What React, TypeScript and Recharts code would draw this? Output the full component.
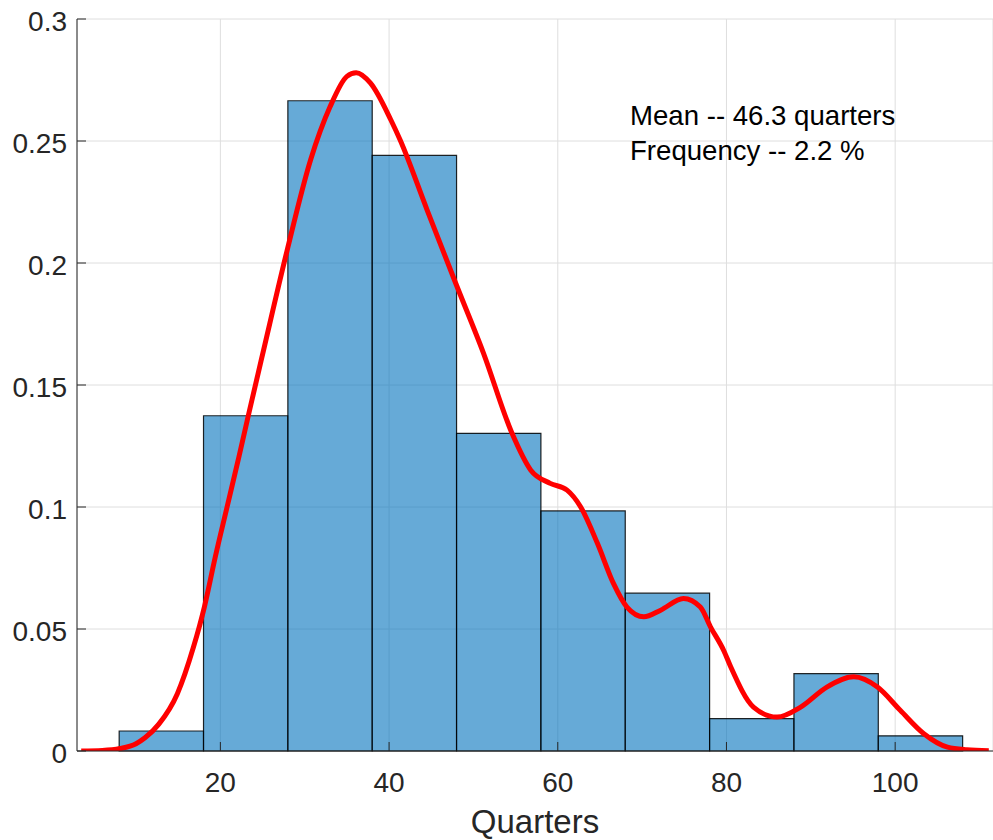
import { ComposedChart, Line, XAxis, YAxis, CartesianGrid, ReferenceArea } from "recharts";

// histogram bins (edges) and heights
const binEdges = [8, 18, 28, 38, 48, 58, 68, 78, 88, 98, 108];
const binHeights = [0.0082, 0.1374, 0.2665, 0.2441, 0.1302, 0.0984, 0.0647, 0.0133, 0.0317, 0.0062];

// smoothed density curve
const curveX = [
  3.5, 6, 8.1, 10.0, 11.1, 12.7, 14.9, 16.8, 18.1, 19.4, 20.8, 22.2, 23.3, 25.1, 27.9, 30.7, 33.0, 35.0,
  36.1, 37.8, 40.2, 41.3, 44.5, 47.9, 51.2, 54.6, 56.8, 59.1, 61.1, 62.7, 64.7, 66.6, 68.2, 70.2, 72.2,
  74.9, 76.9, 78.1, 79.7, 80.5, 83.2, 86.0, 88.8, 91.9, 95.1, 97.9, 100.6, 103.4, 106.2, 108.5, 111.1,
];
const curveY = [
  0, 0.0002, 0.001, 0.003, 0.0055, 0.011, 0.0235, 0.0425, 0.059, 0.0796, 0.1001, 0.1206, 0.1373, 0.164,
  0.205, 0.2423, 0.264, 0.2765, 0.278, 0.2737, 0.2587, 0.2505, 0.2218, 0.1917, 0.163, 0.13, 0.1151,
  0.1097, 0.1069, 0.1001, 0.0851, 0.0687, 0.059, 0.055, 0.0577, 0.0625, 0.059, 0.0509, 0.041, 0.0345,
  0.018, 0.0139, 0.018, 0.0262, 0.0304, 0.0262, 0.0167, 0.0071, 0.0016, 0.0005, 0.0001,
];

const xTicks = [20, 40, 60, 80, 100];
const yTicks = [0, 0.05, 0.1, 0.15, 0.2, 0.25, 0.3];
const xLabel = "Quarters";
const noteLines = ["Mean -- 46.3 quarters", "Frequency -- 2.2 %"];

const curve = curveX.map((x, i) => ({ x, y: curveY[i] }));

const FONT = "'Liberation Sans', Arial, Helvetica, sans-serif";
const AXIS = "#262626";

const XTick = (props: any) => {
  const { x, y, payload } = props;
  return (
    <g>
      <line x1={x} x2={x} y1={y} y2={y - 9} stroke={AXIS} strokeWidth={1} />
      <text x={x} y={y + 41} textAnchor="middle" fontSize={28} fill={AXIS} fontFamily={FONT}>
        {payload.value}
      </text>
    </g>
  );
};

const YTick = (props: any) => {
  const { x, y, payload } = props;
  return (
    <g>
      <line x1={x} x2={x + 9} y1={y} y2={y} stroke={AXIS} strokeWidth={1} />
      <text x={x - 10} y={y + 12} textAnchor="end" fontSize={28} fill={AXIS} fontFamily={FONT}>
        {String(payload.value)}
      </text>
    </g>
  );
};

export default function App() {
  return (
    <div
      style={{
        position: "absolute",
        left: 0,
        top: 0,
        width: 993,
        height: 840,
        background: "#fff",
        fontFamily: FONT,
      }}
    >
      <ComposedChart width={993} height={840} margin={{ top: 19, right: 0, bottom: 0, left: 0 }}>
        <CartesianGrid stroke="#dedede" strokeWidth={1} />
        <XAxis
          type="number"
          dataKey="x"
          domain={[3, 111.6]}
          allowDataOverflow
          ticks={xTicks}
          tickLine={false}
          tickSize={0}
          tickMargin={0}
          tick={<XTick />}
          height={89}
          stroke={AXIS}
          label={{
            content: (p: any) => (
              <text
                x={p.viewBox.x + p.viewBox.width / 2}
                y={833}
                textAnchor="middle"
                fontSize={33}
                fill={AXIS}
                fontFamily={FONT}
              >
                {xLabel}
              </text>
            ),
          }}
        />
        <YAxis
          type="number"
          domain={[0, 0.3]}
          allowDataOverflow
          ticks={yTicks}
          tickLine={false}
          tickSize={0}
          tickMargin={0}
          tick={<YTick />}
          width={77}
          stroke={AXIS}
        />
        {binHeights.map((h, i) => (
          <ReferenceArea
            key={i}
            x1={binEdges[i]}
            x2={binEdges[i + 1]}
            y1={0}
            y2={h}
            fill="#0072BD"
            fillOpacity={0.6}
            stroke="#000"
            strokeOpacity={0.85}
            strokeWidth={1.2}
          />
        ))}
        <Line
          data={curve}
          dataKey="y"
          type="monotone"
          stroke="#ff0000"
          strokeWidth={5}
          dot={false}
          activeDot={false}
          isAnimationActive={false}
        />
      </ComposedChart>
      <svg
        width={993}
        height={840}
        style={{ position: "absolute", left: 0, top: 0, pointerEvents: "none" }}
      >
        {noteLines.map((t, i) => (
          <text key={i} x={630} y={125 + i * 35} fontSize={27.6} fill="#000" fontFamily={FONT}>
            {t}
          </text>
        ))}
      </svg>
    </div>
  );
}
